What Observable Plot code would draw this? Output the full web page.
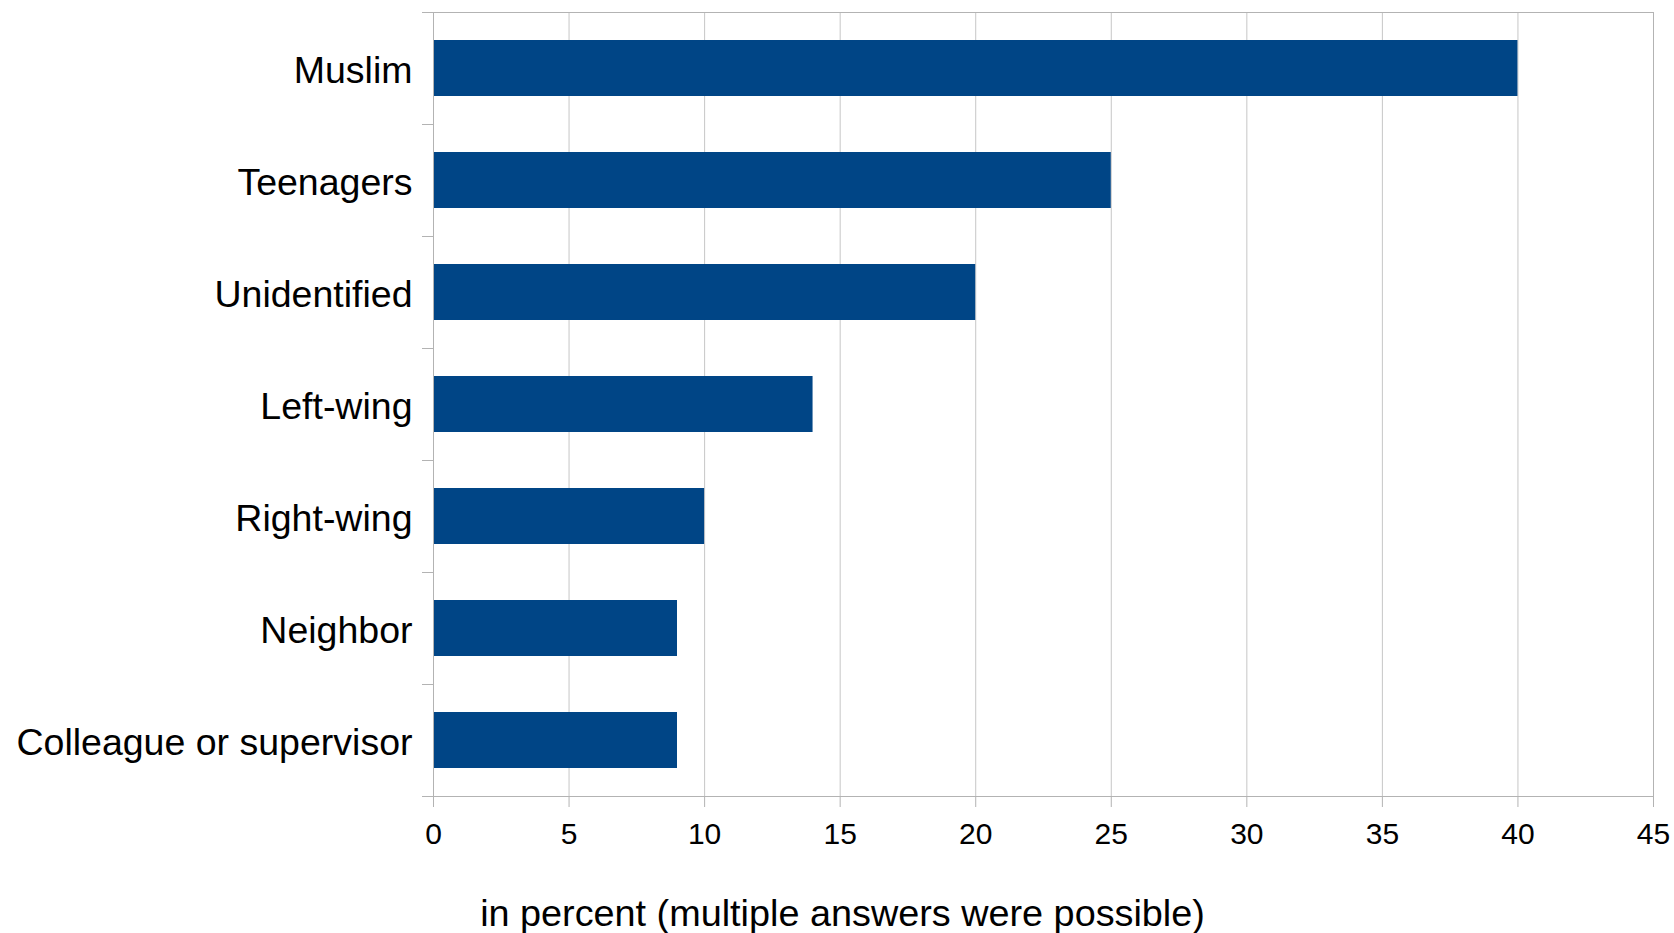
<!DOCTYPE html>
<html>
<head>
<meta charset="utf-8">
<script src="https://cdn.jsdelivr.net/npm/d3@7"></script>
<script src="https://cdn.jsdelivr.net/npm/@observablehq/plot@0.6"></script>
<style>
  body { margin: 0; background: #fff; }
</style>
</head>
<body>
<div id="chart"></div>
<script>
// Perpetrator groups, top to bottom
const categories = [
  "Muslim",
  "Teenagers",
  "Unidentified",
  "Left-wing",
  "Right-wing",
  "Neighbor",
  "Colleague or supervisor"
];
// Share of respondents naming each group (percent)
const shares = [40, 25, 20, 14, 10, 9, 9];
// Horizontal axis ticks
const xTicks = [0, 5, 10, 15, 20, 25, 30, 35, 40, 45];
const axisTitle = "in percent (multiple answers were possible)";

const data = categories.map((category, i) => ({category, share: shares[i]}));

const lineColor = "#b3b3b3";
const gridColor = "#c6c6c6";
const halfBand = 56;

const chart = Plot.plot({
  width: 1674,
  height: 933,
  marginLeft: 433,
  marginRight: 21,
  marginTop: 12,
  marginBottom: 137,
  style: {
    fontFamily: "'Liberation Sans', Arial, sans-serif",
    background: "#fff",
    color: "#000"
  },
  x: {domain: [0, 45]},
  y: {domain: categories, padding: 0},
  marks: [
    Plot.gridX(xTicks, {stroke: gridColor, strokeOpacity: 1}),
    Plot.barX(data, {
      x: "share",
      y: "category",
      fill: "#004586",
      insetTop: 28,
      insetBottom: 28
    }),
    Plot.frame({stroke: lineColor}),
    // bottom axis: ticks hanging below the frame, labels beneath
    Plot.axisX(xTicks, {
      tickSize: 11,
      tickPadding: 15,
      fontSize: 30,
      stroke: lineColor,
      fill: "#000",
      label: null,
      tickFormat: d => String(d)
    }),
    // category labels
    Plot.axisY({
      tickSize: 0,
      tickPadding: 21,
      fontSize: 37.5,
      dy: 2,
      fill: "#000",
      label: null
    }),
    // tick marks on the band boundaries
    Plot.axisY({
      text: null,
      tickSize: 11,
      dy: -halfBand,
      stroke: lineColor,
      label: null
    }),
    Plot.axisY([categories[categories.length - 1]], {
      text: null,
      tickSize: 11,
      dy: halfBand,
      stroke: lineColor,
      label: null
    }),
    // axis title
    Plot.text([axisTitle], {
      text: d => d,
      frameAnchor: "bottom",
      lineAnchor: "bottom",
      dx: -201,
      dy: 129,
      fontSize: 37.8,
      fill: "#000"
    })
  ]
});

document.getElementById("chart").appendChild(chart);
</script>
</body>
</html>
